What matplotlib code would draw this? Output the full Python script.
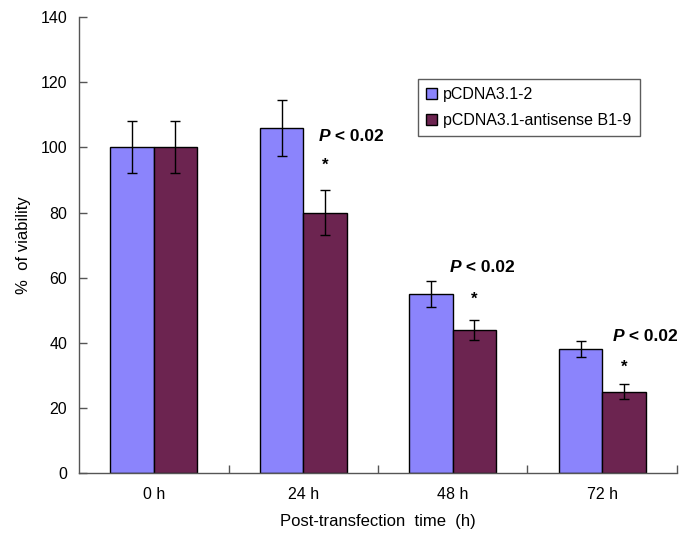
import matplotlib
matplotlib.use("Agg")
import matplotlib.pyplot as plt
import numpy as np

categories = ["0 h", "24 h", "48 h", "72 h"]
control = [100, 106, 55, 38]
control_err = [8, 8.7, 4, 2.5]
antisense = [100, 80, 44, 25]
antisense_err = [8, 7, 3, 2.2]
series_names = ["pCDNA3.1-2", "pCDNA3.1-antisense B1-9"]
sig_groups = [1, 2, 3]
sig_text_x = [1.10, 1.98, 3.07]
sig_text_y = [103.2, 63.2, 41.8]
star_y = [94.5, 53.5, 32.5]

plt.rcParams['font.family'] = ['Liberation Sans', 'DejaVu Sans']

fig = plt.figure(figsize=(6.92, 5.36), dpi=100)
ax = fig.add_axes([0.1142, 0.1175, 0.8641, 0.8505])

x = np.arange(len(categories))
w = 0.29
blue = "#8B84FC"
purple = "#6C2450"
ekw = dict(ecolor="black", elinewidth=1.0, capsize=3.3, capthick=1.0)
ax.bar(x - w/2, control, w, color=blue, edgecolor="black", linewidth=1.0,
       yerr=control_err, error_kw=ekw, label=series_names[0], zorder=2)
ax.bar(x + w/2, antisense, w, color=purple, edgecolor="black", linewidth=1.0,
       yerr=antisense_err, error_kw=ekw, label=series_names[1], zorder=2)

ax.set_xlim(-0.5, len(categories) - 0.5)
ax.set_ylim(0, 140)
ax.set_yticks(np.arange(0, 141, 20))
ax.set_xticks(x)
ax.set_xticklabels(categories)
ax.set_xticks(np.arange(-0.5, len(categories) + 0.5, 1.0)[1:], minor=True)

for s in ["top", "right"]:
    ax.spines[s].set_visible(False)
for s in ["left", "bottom"]:
    ax.spines[s].set_color("#555555")
    ax.spines[s].set_linewidth(1.0)

ax.tick_params(axis="y", direction="in", length=6, width=1, color="#555555",
               labelsize=11.5, pad=8.5)
ax.tick_params(axis="x", which="major", length=0, labelsize=11.5, pad=10)
ax.tick_params(axis="x", which="minor", direction="in", length=6, width=1,
               color="#555555")

ax.set_ylabel("%  of viability", fontsize=12, labelpad=7)
ax.set_xlabel("Post-transfection  time  (h)", fontsize=12, labelpad=9)

# significance annotations
for g, tx, ty, sy in zip(sig_groups, sig_text_x, sig_text_y, star_y):
    ax.text(g + w/2, sy, "*", ha="center", va="center", fontsize=12,
            fontweight="bold")
    t1 = ax.text(tx, ty, "P", ha="left", va="center", fontsize=12.5,
                 fontweight="bold", fontstyle="italic")
    ax.annotate(" < 0.02", xy=(1, 0.5), xycoords=t1, ha="left", va="center",
                fontsize=12.5, fontweight="bold")

leg = ax.legend(loc="upper left", bbox_to_anchor=(0.5665, 0.864), fontsize=11.5,
                frameon=True, fancybox=False, edgecolor="#333333",
                handlelength=0.7, handleheight=0.7, handletextpad=0.4,
                borderpad=0.5, labelspacing=0.7, borderaxespad=0)
leg.get_frame().set_linewidth(1.0)

fig.savefig("out.png", dpi=100)
